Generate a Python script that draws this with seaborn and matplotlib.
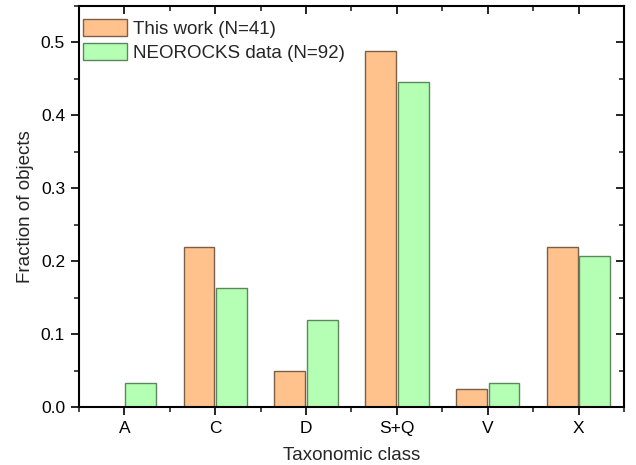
import matplotlib
matplotlib.use("Agg")
import matplotlib.pyplot as plt
import seaborn as sns
import pandas as pd
from matplotlib.ticker import MultipleLocator, FormatStrFormatter

categories = ["A", "C", "D", "S+Q", "V", "X"]
this_work = [0.0, 0.2195, 0.0488, 0.4878, 0.0244, 0.2195]
neorocks = [0.0326, 0.1630, 0.1196, 0.4457, 0.0326, 0.2065]
series_names = ["This work (N=41)", "NEOROCKS data (N=92)"]

df = pd.DataFrame({
    "Taxonomic class": categories * 2,
    "Fraction of objects": this_work + neorocks,
    "series": [series_names[0]] * len(categories) + [series_names[1]] * len(categories),
})

sns.set_style("white")
plt.rcParams["font.family"] = ["Liberation Sans", "DejaVu Sans"]

fig = plt.figure(figsize=(6.36, 4.65), dpi=100)
ax = fig.add_axes([0.1242, 0.1247, 0.981 - 0.1242, 0.987 - 0.1247])

faces = ["#FFC28C", "#B4FFB4"]
edges = ["#7a6048", "#5c875c"]
sns.barplot(data=df, x="Taxonomic class", y="Fraction of objects", hue="series",
            palette=faces, width=0.72, gap=0.06, saturation=1, ax=ax, legend=True)

for cont, ec in zip(ax.containers, edges):
    for p in cont:
        p.set_edgecolor(ec)
        p.set_linewidth(1.0)

ax.set_xlim(-0.5, 5.5)
ax.set_ylim(0, 0.55)
ax.yaxis.set_major_locator(MultipleLocator(0.1))
ax.yaxis.set_minor_locator(MultipleLocator(0.05))
ax.set_xticks(range(len(categories)))
ax.set_xticklabels(categories)
ax.set_xticks([i + 0.5 for i in range(-1, len(categories))], minor=True)
ax.yaxis.set_major_formatter(FormatStrFormatter("%.1f"))

for s in ax.spines.values():
    s.set_visible(True)
    s.set_color("black")
    s.set_linewidth(1.5)

ax.tick_params(axis="both", which="major", direction="out", length=6, width=1.2,
               labelsize=12.5, colors="black", bottom=True, left=True, pad=4)
ax.tick_params(axis="both", which="minor", direction="out", length=3.5, width=1.2,
               bottom=True, left=True)
ax.tick_params(axis="x", which="both", top=True)
ax.tick_params(axis="y", which="both", right=True)
for t in ax.xaxis.get_major_ticks() + ax.xaxis.get_minor_ticks():
    t.tick2line.set_marker(matplotlib.markers.TICKDOWN)
for t in ax.yaxis.get_major_ticks() + ax.yaxis.get_minor_ticks():
    t.tick2line.set_marker(matplotlib.markers.TICKLEFT)

ax.set_xlabel("Taxonomic class", fontsize=13.5, labelpad=8)
ax.set_ylabel("Fraction of objects", fontsize=13.5, labelpad=5)

leg = ax.legend(loc="upper left", bbox_to_anchor=(0.0073, 0.968), frameon=False,
                fontsize=13.5, handlelength=2.35, handleheight=1.05,
                labelspacing=0.25, handletextpad=0.3, borderaxespad=0.0, borderpad=0.0)
for h, ec in zip(leg.legend_handles, edges):
    h.set_edgecolor(ec)
    h.set_linewidth(1.0)

fig.savefig("out.png", dpi=100)
